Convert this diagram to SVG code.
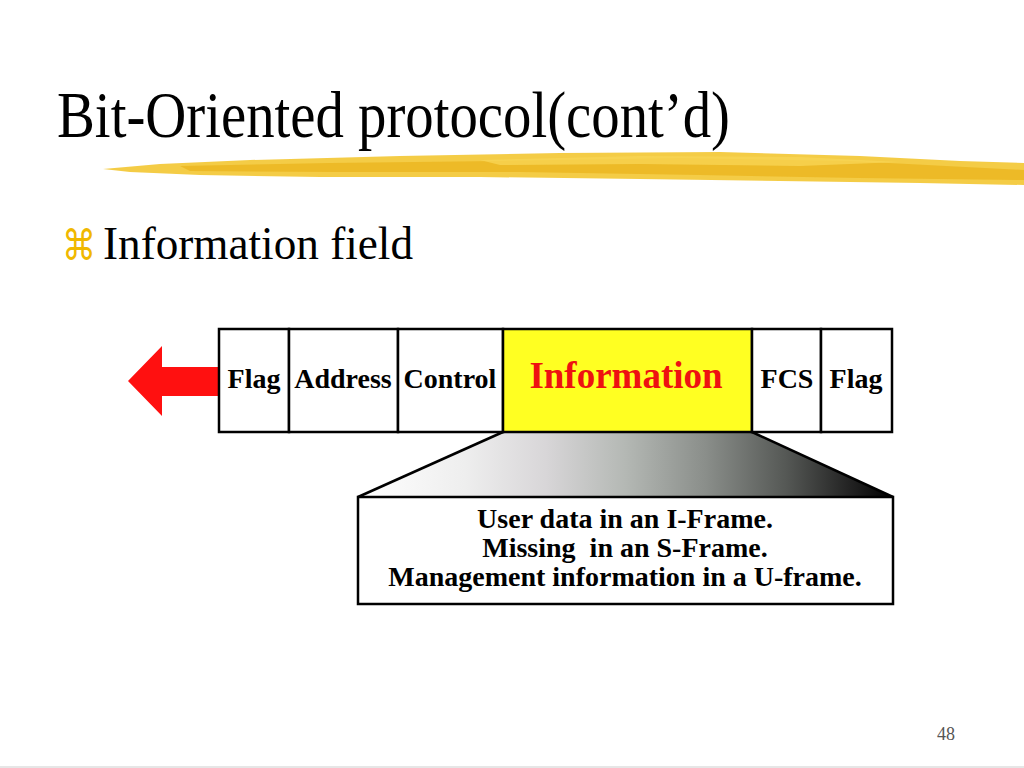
<svg xmlns="http://www.w3.org/2000/svg" width="1024" height="768" viewBox="0 0 1024 768">
<defs>
<style>
.serif{font-family:"Liberation Serif","Times New Roman",serif}
.fld{font-family:"Liberation Serif","Times New Roman",serif;font-weight:bold;font-size:28px;fill:#000;text-anchor:middle}
.box{fill:#fff;stroke:#000;stroke-width:2.5}
.note{font-family:"Liberation Serif","Times New Roman",serif;font-weight:bold;font-size:28px;fill:#000;text-anchor:middle}
</style>
<linearGradient id="fade" gradientUnits="userSpaceOnUse" x1="358" y1="0" x2="893" y2="0">
<stop offset="0" stop-color="#ffffff"/>
<stop offset="0.2" stop-color="#eeeeee"/>
<stop offset="0.35" stop-color="#d8d6d8"/>
<stop offset="0.5" stop-color="#b4b8b4"/>
<stop offset="0.65" stop-color="#8a8e8a"/>
<stop offset="0.8" stop-color="#555855"/>
<stop offset="0.92" stop-color="#222222"/>
<stop offset="1" stop-color="#000000"/>
</linearGradient>
</defs>
<rect width="1024" height="768" fill="#fff"/>
<line x1="0" y1="767" x2="1024" y2="767" stroke="#e6e6e6" stroke-width="2"/>

<g id="title">
<text class="serif" x="57" y="137" font-size="66" textLength="673" lengthAdjust="spacingAndGlyphs" fill="#000">Bit-Oriented protocol(cont’d)</text>
</g>

<g id="streak">
<path d="M103,169 L160,164 L250,160 L400,156 L560,153 L720,152 L860,156 L960,161 L1024,163 L1024,185 L920,183 L780,181 L640,179 L480,177 L320,177 L200,175 L130,172 Z" fill="#f3c632" opacity="0.9"/>
<path d="M180,166 L330,163 L500,161 L680,158 L850,161 L1024,170 L1024,180 L860,178 L700,175 L520,172 L340,172 L190,171 Z" fill="#e9b21a" opacity="0.7"/>
<path d="M480,160 L640,156 L800,157 L900,162 L800,166 L640,164 L500,165 Z" fill="#f7d454" opacity="0.8"/>
</g>

<g id="bullet">
<text x="62" y="260" font-family="'DejaVu Sans',sans-serif" font-size="42" textLength="34" lengthAdjust="spacingAndGlyphs" fill="#f0b800">⌘</text>
<text class="serif" x="103" y="259" font-size="46" textLength="310" lengthAdjust="spacingAndGlyphs" fill="#000">Information field</text>
</g>

<g id="arrow">
<polygon points="128,381 162,346 162,367 220,367 220,396 162,396 162,416" fill="#ff1010"/>
</g>

<g id="connectors">
<polygon points="503,432 752,432 893,497 358,497" fill="url(#fade)"/>
<line x1="503" y1="432" x2="358" y2="497" stroke="#000" stroke-width="2.5"/>
<line x1="752" y1="432" x2="893" y2="497" stroke="#000" stroke-width="2.5"/>
</g>

<g id="frame">
<g id="f-flag1"><rect class="box" x="219" y="329" width="70" height="103"/><text class="fld" x="254" y="388">Flag</text></g>
<g id="f-address"><rect class="box" x="289" y="329" width="109" height="103"/><text class="fld" x="343" y="388">Address</text></g>
<g id="f-control"><rect class="box" x="398" y="329" width="105" height="103"/><text class="fld" x="450" y="388">Control</text></g>
<g id="f-info"><rect x="503" y="329" width="249" height="103" fill="#ffff22" stroke="#000" stroke-width="2.5"/><text x="626" y="388" font-family="'Liberation Serif','Times New Roman',serif" font-weight="bold" font-size="37" fill="#ee1111" text-anchor="middle">Information</text></g>
<g id="f-fcs"><rect class="box" x="752" y="329" width="69" height="103"/><text class="fld" x="787" y="388">FCS</text></g>
<g id="f-flag2"><rect class="box" x="821" y="329" width="71" height="103"/><text class="fld" x="856" y="388">Flag</text></g>
</g>

<g id="note">
<rect class="box" x="358" y="497" width="535" height="107"/>
<text class="note" x="625" y="528">User data in an I-Frame.</text>
<text class="note" x="625" y="557" xml:space="preserve">Missing  in an S-Frame.</text>
<text class="note" x="625" y="586">Management information in a U-frame.</text>
</g>

<g id="page">
<text class="serif" x="946" y="740" font-size="18" fill="#555" text-anchor="middle">48</text>
</g>
</svg>
